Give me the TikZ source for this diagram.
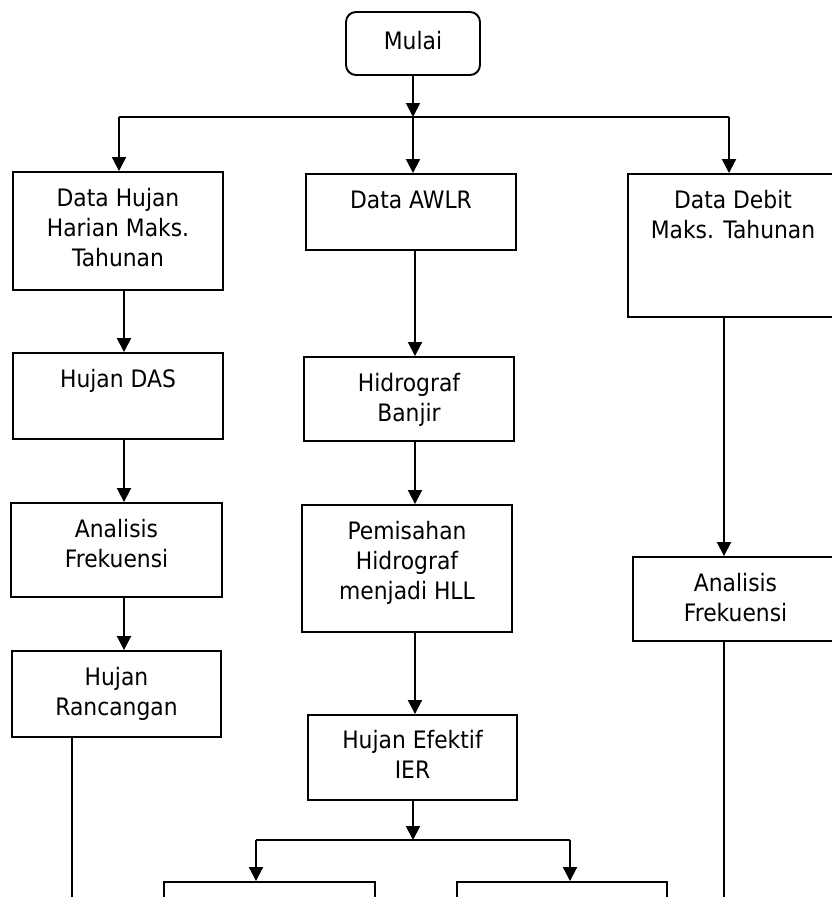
\documentclass[tikz,border=0pt]{standalone}
\usepackage{fontspec}
\setmainfont{DejaVu Sans}[FakeStretch=0.91]
\usetikzlibrary{arrows.meta,fit}
\newcommand\firstln{\rule{0pt}{15pt}}
\begin{document}
\begin{tikzpicture}[x=0.75pt,y=-0.75pt,
  box/.style={draw, line width=1.45pt, inner sep=0pt, rectangle},
  rbox/.style={box, rounded corners=7.5pt},
  lbl/.style={anchor=north, inner sep=0pt, align=center, font=\fontsize{18pt}{22.5pt}\selectfont},
  conn/.style={line width=1.45pt},
  arr/.style={conn, -{Triangle[width=10.5pt,length=10.5pt]}}]
\useasboundingbox (0,0) rectangle (832,897);
\clip (0,0) rectangle (832,897);

% boxes
\node[rbox, fit={(346,12) (480,75)}] (mulai) {};
\node[box, fit={(13,172) (223,290)}] (dh) {};
\node[box, fit={(306,174) (516,250)}] (awlr) {};
\node[box, fit={(628,174) (838,317)}] (debit) {};
\node[box, fit={(13,353) (223,439)}] (das) {};
\node[box, fit={(304,357) (514,441)}] (hb) {};
\node[box, fit={(11,503) (222,597)}] (af1) {};
\node[box, fit={(302,505) (512,632)}] (pem) {};
\node[box, fit={(633,557) (838,641)}] (af2) {};
\node[box, fit={(12,651) (221,737)}] (hr) {};
\node[box, fit={(308,715) (517,800)}] (he) {};
\node[box, fit={(164,882) (375,960)}] (b1) {};
\node[box, fit={(457,882) (667,960)}] (b2) {};

% labels
\node[lbl] (mulait) at ([yshift=-13.5pt]mulai.north) {\firstln Mulai};
\node[lbl] (dht) at ([yshift=-11.25pt]dh.north) {\firstln Data Hujan\\Harian Maks.\\Tahunan};
\node[lbl] (awlrt) at ([yshift=-11.25pt]awlr.north) {\firstln Data AWLR};
\node[lbl] (debitt) at ([yshift=-11.25pt]debit.north) {\firstln Data Debit\\Maks. Tahunan};
\node[lbl] (dast) at ([yshift=-11.25pt]das.north) {\firstln Hujan DAS};
\node[lbl] (hbt) at ([yshift=-11.25pt]hb.north) {\firstln Hidrograf\\Banjir};
\node[lbl] (af1t) at ([yshift=-11.25pt]af1.north) {\firstln Analisis\\Frekuensi};
\node[lbl] (pemt) at ([yshift=-11.25pt]pem.north) {\firstln Pemisahan\\Hidrograf\\menjadi HLL};
\node[lbl] (af2t) at ([yshift=-11.25pt]af2.north) {\firstln Analisis\\Frekuensi};
\node[lbl] (hrt) at ([yshift=-11.25pt]hr.north) {\firstln Hujan\\Rancangan};
\node[lbl] (het) at ([yshift=-10.5pt]he.north) {\firstln Hujan Efektif\\IER};

% helper coordinates
\coordinate (busL) at (119,117);
\coordinate (busM) at (413,117);
\coordinate (busR) at (729,117);
\coordinate (colL) at (124,0);
\coordinate (colM) at (415,0);
\coordinate (colR) at (724,0);
\coordinate (hrEnd) at (72,910);
\coordinate (af2End) at (724,910);
\coordinate (bus2L) at (256,840);
\coordinate (bus2M) at (413,840);
\coordinate (bus2R) at (570,840);

% top distribution
\draw[arr] (mulai.south) -- (busM);
\draw[conn] (busL) -- (busR);
\draw[arr] (busL) -- (busL |- dh.north);
\draw[arr] (busM) -- (busM |- awlr.north);
\draw[arr] (busR) -- (busR |- debit.north);

% left column
\draw[arr] (dh.south -| colL) -- (das.north -| colL);
\draw[arr] (das.south -| colL) -- (af1.north -| colL);
\draw[arr] (af1.south -| colL) -- (hr.north -| colL);
\draw[conn] (hr.south -| hrEnd) -- (hrEnd);

% middle column
\draw[arr] (awlr.south -| colM) -- (hb.north -| colM);
\draw[arr] (hb.south -| colM) -- (pem.north -| colM);
\draw[arr] (pem.south -| colM) -- (he.north -| colM);
\draw[arr] (he.south -| bus2M) -- (bus2M);
\draw[conn] (bus2L) -- (bus2R);
\draw[arr] (bus2L) -- (bus2L |- b1.north);
\draw[arr] (bus2R) -- (bus2R |- b2.north);

% right column
\draw[arr] (debit.south -| colR) -- (af2.north -| colR);
\draw[conn] (af2.south -| af2End) -- (af2End);
\end{tikzpicture}
\end{document}
